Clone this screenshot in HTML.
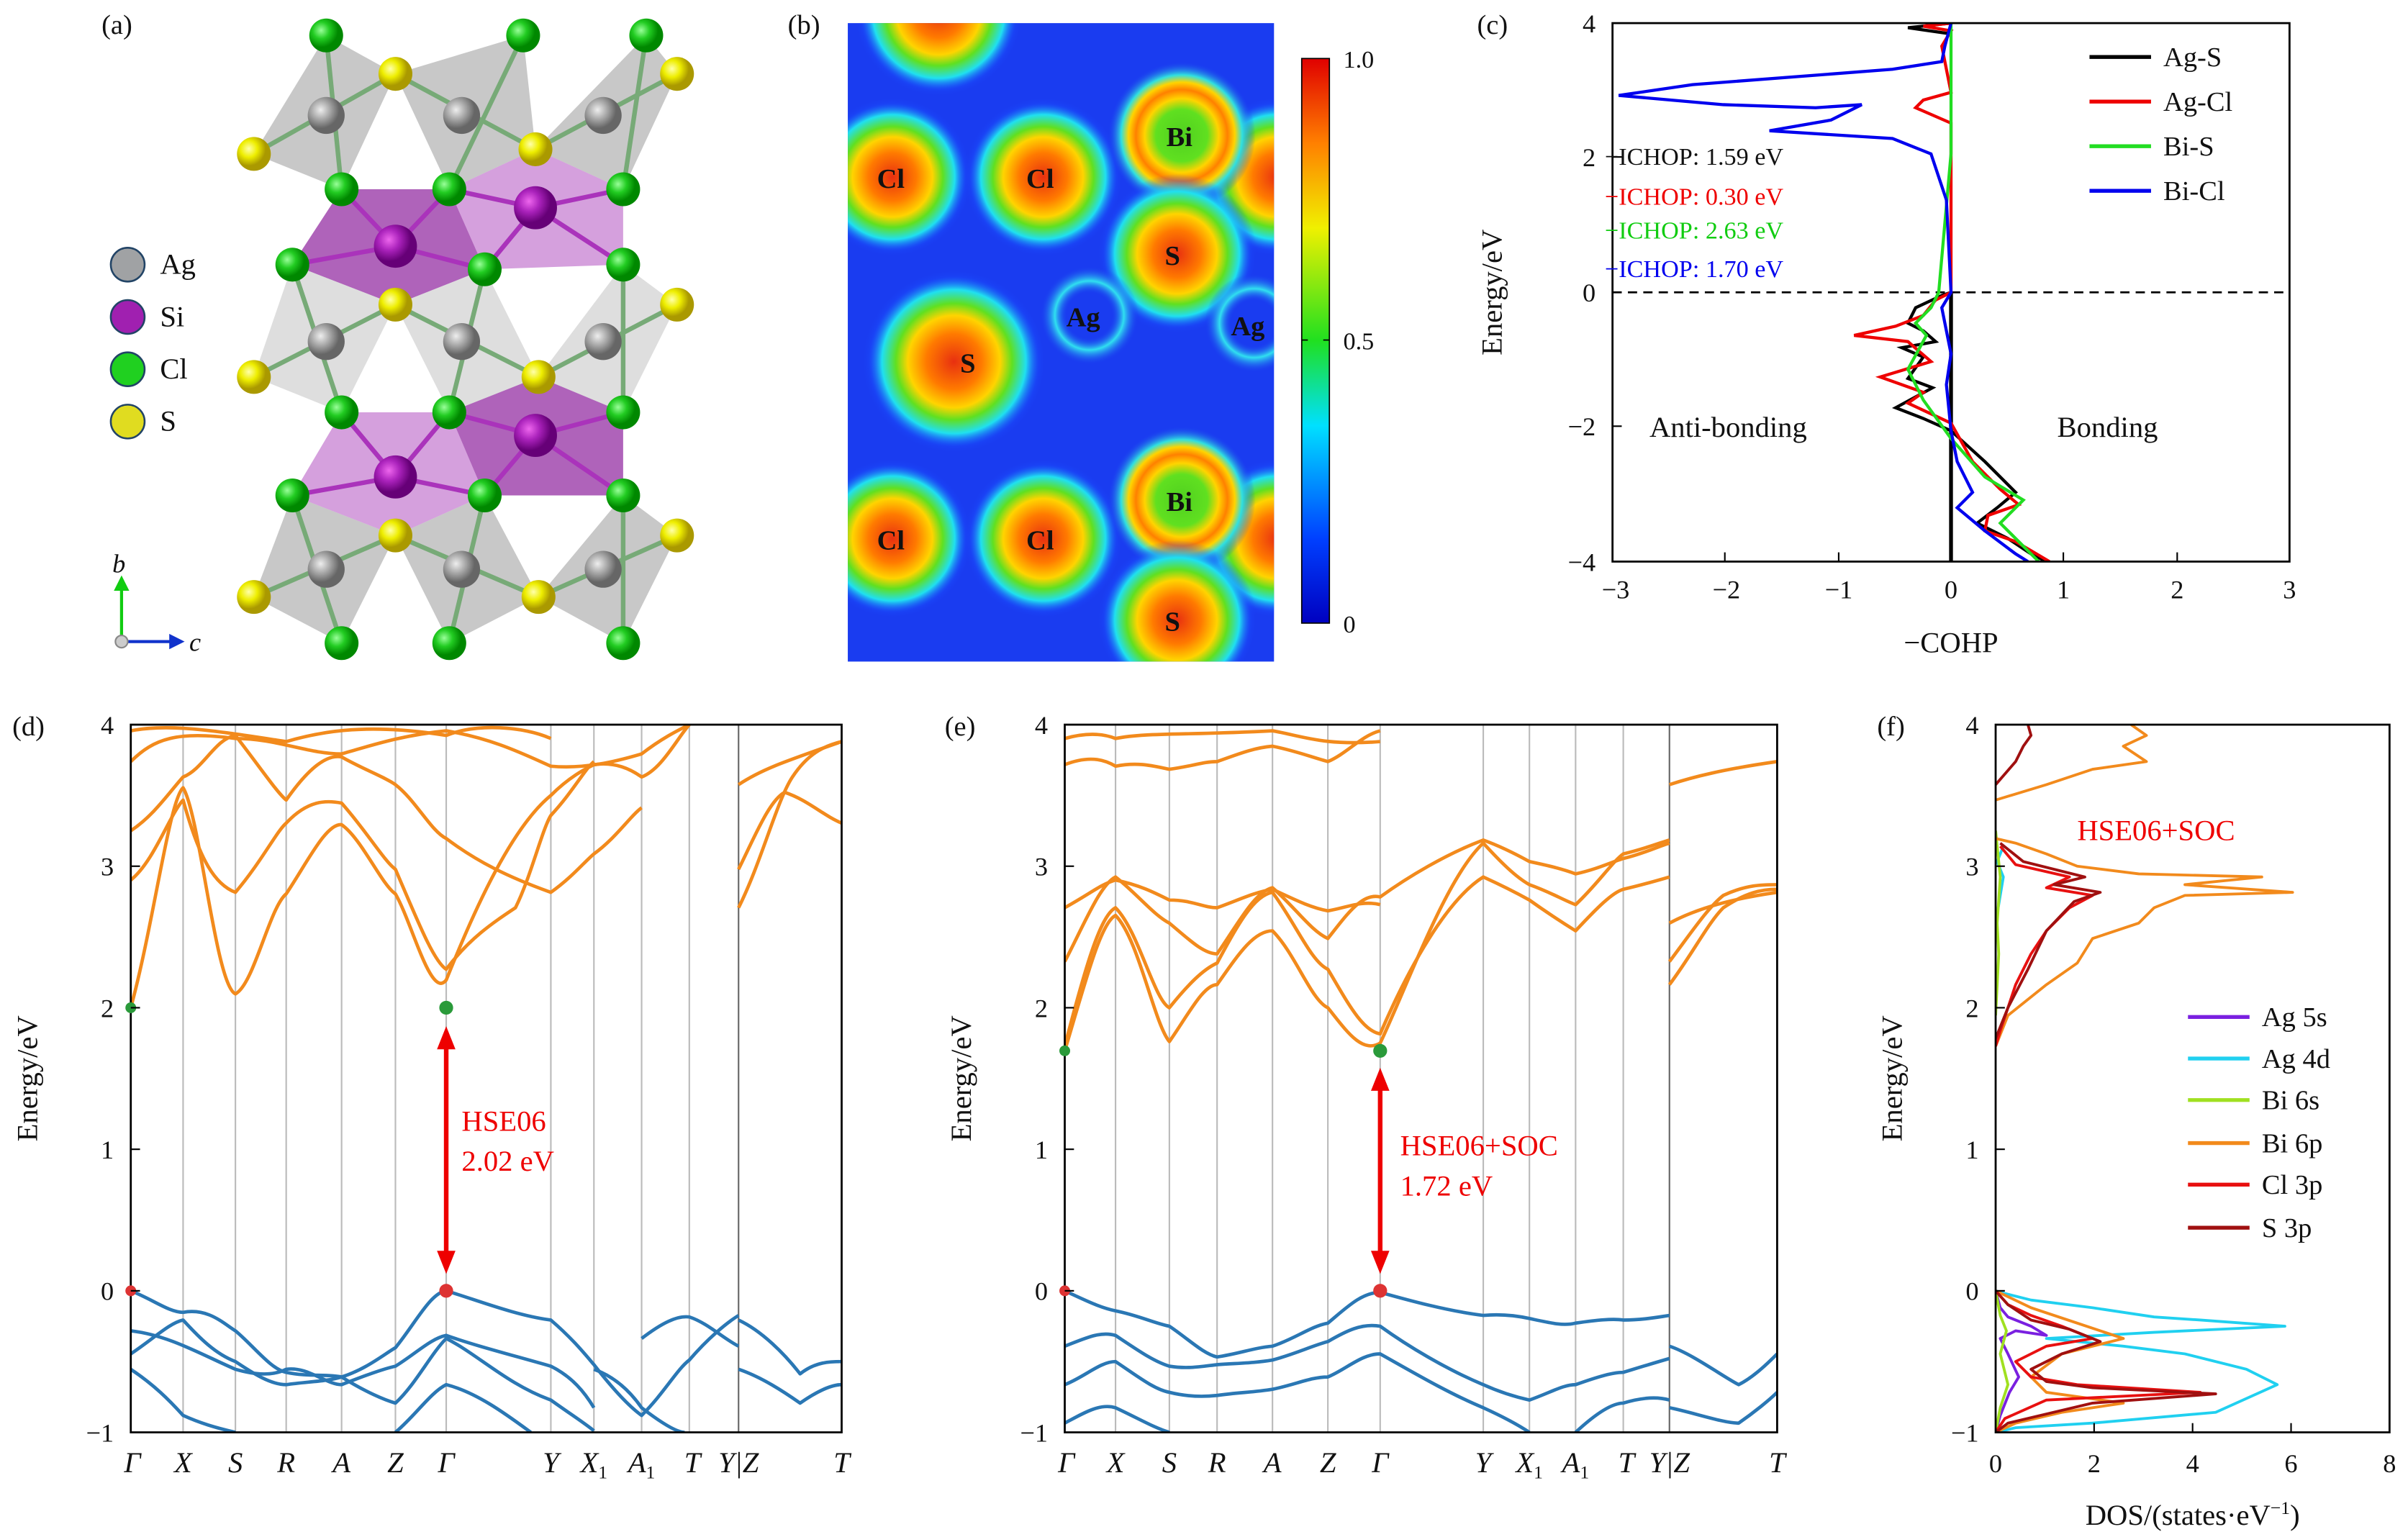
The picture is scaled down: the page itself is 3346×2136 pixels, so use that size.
<!DOCTYPE html>
<html><head><meta charset="utf-8"><style>
html,body{margin:0;padding:0;background:#fff}
svg{display:block}
text{font-family:"Liberation Serif","DejaVu Serif",serif;fill:#111}
</style></head><body>
<svg xmlns="http://www.w3.org/2000/svg" width="3346" height="2136" viewBox="0 0 1565 999">
<defs>
<radialGradient id="hot"><stop offset="0" stop-color="#e83010"/><stop offset="0.3" stop-color="#ff7a00"/><stop offset="0.5" stop-color="#ffd400"/><stop offset="0.63" stop-color="#60e020"/><stop offset="0.78" stop-color="#20e0f0"/><stop offset="0.92" stop-color="#1a50ff" stop-opacity="0.3"/><stop offset="1" stop-color="#1a3cf0" stop-opacity="0"/></radialGradient>
<radialGradient id="ring"><stop offset="0" stop-color="#1a3cf0" stop-opacity="0"/><stop offset="0.45" stop-color="#1a3cf0" stop-opacity="0"/><stop offset="0.7" stop-color="#30e0f0"/><stop offset="1" stop-color="#1a3cf0" stop-opacity="0"/></radialGradient>
<radialGradient id="bi"><stop offset="0" stop-color="#50d020"/><stop offset="0.35" stop-color="#60e020"/><stop offset="0.5" stop-color="#ffd400"/><stop offset="0.62" stop-color="#ff8000"/><stop offset="0.72" stop-color="#ffd400"/><stop offset="0.82" stop-color="#30e0e0"/><stop offset="1" stop-color="#1a3cf0" stop-opacity="0"/></radialGradient>
<linearGradient id="cbar" x1="0" y1="1" x2="0" y2="0"><stop offset="0" stop-color="#0000c0"/><stop offset="0.15" stop-color="#0040ff"/><stop offset="0.35" stop-color="#00e0ff"/><stop offset="0.5" stop-color="#20e020"/><stop offset="0.7" stop-color="#f0f000"/><stop offset="0.85" stop-color="#ff8000"/><stop offset="1" stop-color="#e00000"/></linearGradient>
<radialGradient id="gCl" cx="0.35" cy="0.35"><stop offset="0" stop-color="#9f9"/><stop offset="0.5" stop-color="#2c2"/><stop offset="1" stop-color="#080"/></radialGradient>
<radialGradient id="gS" cx="0.35" cy="0.35"><stop offset="0" stop-color="#ffa"/><stop offset="0.5" stop-color="#ee0"/><stop offset="1" stop-color="#a90"/></radialGradient>
<radialGradient id="gAg" cx="0.35" cy="0.35"><stop offset="0" stop-color="#eee"/><stop offset="0.5" stop-color="#aaa"/><stop offset="1" stop-color="#666"/></radialGradient>
<radialGradient id="gSi" cx="0.35" cy="0.35"><stop offset="0" stop-color="#e6e"/><stop offset="0.5" stop-color="#a2b"/><stop offset="1" stop-color="#607"/></radialGradient>
<clipPath id="cb"><rect x="551" y="15" width="277" height="415"/></clipPath>
<clipPath id="cc"><rect x="1048" y="15" width="440" height="350"/></clipPath>
<clipPath id="cd"><rect x="85" y="471" width="462" height="460"/></clipPath>
<clipPath id="ce"><rect x="692" y="471" width="463" height="460"/></clipPath>
<clipPath id="cf"><rect x="1297" y="471" width="256" height="460"/></clipPath>
</defs>

<!-- (a) -->
<text x="66" y="22" font-size="18">(a)</text>
<g opacity="0.9">
<polygon points="212,23 257,48 222,123 165,100" fill="#999" opacity="0.6"/>
<polygon points="340,23 257,48 292,123 348,97" fill="#999" opacity="0.6"/>
<polygon points="420,23 440,48 405,123 348,97" fill="#999" opacity="0.6"/>
<polygon points="222,123 292,123 315,175 257,198 190,172" fill="#8a1a9a" opacity="0.75"/>
<polygon points="292,123 348,97 405,123 405,172 315,175" fill="#b050c0" opacity="0.6"/>
<polygon points="190,172 257,198 222,268 165,245" fill="#bbb" opacity="0.55"/>
<polygon points="315,175 257,198 292,268 350,245" fill="#bbb" opacity="0.55"/>
<polygon points="405,172 440,198 405,268 350,245" fill="#bbb" opacity="0.55"/>
<polygon points="222,268 292,268 315,322 257,348 190,322" fill="#b050c0" opacity="0.6"/>
<polygon points="292,268 350,245 405,268 405,322 315,322" fill="#8a1a9a" opacity="0.75"/>
<polygon points="190,322 257,348 222,418 165,388" fill="#999" opacity="0.6"/>
<polygon points="315,322 257,348 292,418 350,388" fill="#999" opacity="0.6"/>
<polygon points="405,322 440,348 405,418 350,388" fill="#999" opacity="0.6"/>
</g>
<g stroke="#7a7" stroke-width="3">
<line x1="212" y1="23" x2="222" y2="123"/><line x1="340" y1="23" x2="292" y2="123"/><line x1="420" y1="23" x2="405" y2="123"/>
<line x1="165" y1="100" x2="257" y2="48"/><line x1="257" y1="48" x2="348" y2="97"/><line x1="348" y1="97" x2="440" y2="48"/>
<line x1="190" y1="172" x2="222" y2="268"/><line x1="315" y1="175" x2="292" y2="268"/><line x1="405" y1="172" x2="405" y2="268"/>
<line x1="165" y1="245" x2="257" y2="198"/><line x1="257" y1="198" x2="350" y2="245"/><line x1="350" y1="245" x2="440" y2="198"/>
<line x1="190" y1="322" x2="222" y2="418"/><line x1="315" y1="322" x2="292" y2="418"/><line x1="405" y1="322" x2="405" y2="418"/>
<line x1="165" y1="388" x2="257" y2="348"/><line x1="257" y1="348" x2="350" y2="388"/><line x1="350" y1="388" x2="440" y2="348"/>
</g>
<g stroke="#a3b" stroke-width="3">
<line x1="257" y1="160" x2="222" y2="123"/><line x1="257" y1="160" x2="292" y2="123"/><line x1="257" y1="160" x2="190" y2="172"/><line x1="257" y1="160" x2="315" y2="175"/>
<line x1="348" y1="135" x2="292" y2="123"/><line x1="348" y1="135" x2="405" y2="123"/><line x1="348" y1="135" x2="315" y2="175"/><line x1="348" y1="135" x2="405" y2="172"/>
<line x1="257" y1="310" x2="222" y2="268"/><line x1="257" y1="310" x2="292" y2="268"/><line x1="257" y1="310" x2="190" y2="322"/><line x1="257" y1="310" x2="315" y2="322"/>
<line x1="348" y1="283" x2="292" y2="268"/><line x1="348" y1="283" x2="405" y2="268"/><line x1="348" y1="283" x2="315" y2="322"/><line x1="348" y1="283" x2="405" y2="322"/>
</g>
<g fill="url(#gAg)"><circle cx="212" cy="75" r="12"/><circle cx="300" cy="75" r="12"/><circle cx="392" cy="75" r="12"/><circle cx="212" cy="222" r="12"/><circle cx="300" cy="222" r="12"/><circle cx="392" cy="222" r="12"/><circle cx="212" cy="370" r="12"/><circle cx="300" cy="370" r="12"/><circle cx="392" cy="370" r="12"/></g>
<g fill="url(#gSi)"><circle cx="348" cy="135" r="14"/><circle cx="257" cy="160" r="14"/><circle cx="348" cy="283" r="14"/><circle cx="257" cy="310" r="14"/></g>
<g fill="url(#gS)"><circle cx="257" cy="48" r="11"/><circle cx="440" cy="48" r="11"/><circle cx="165" cy="100" r="11"/><circle cx="348" cy="97" r="11"/><circle cx="257" cy="198" r="11"/><circle cx="440" cy="198" r="11"/><circle cx="165" cy="245" r="11"/><circle cx="350" cy="245" r="11"/><circle cx="257" cy="348" r="11"/><circle cx="440" cy="348" r="11"/><circle cx="165" cy="388" r="11"/><circle cx="350" cy="388" r="11"/></g>
<g fill="url(#gCl)"><circle cx="212" cy="23" r="11"/><circle cx="340" cy="23" r="11"/><circle cx="420" cy="23" r="11"/><circle cx="222" cy="123" r="11"/><circle cx="292" cy="123" r="11"/><circle cx="405" cy="123" r="11"/><circle cx="190" cy="172" r="11"/><circle cx="315" cy="175" r="11"/><circle cx="405" cy="172" r="11"/><circle cx="222" cy="268" r="11"/><circle cx="292" cy="268" r="11"/><circle cx="405" cy="268" r="11"/><circle cx="190" cy="322" r="11"/><circle cx="315" cy="322" r="11"/><circle cx="405" cy="322" r="11"/><circle cx="222" cy="418" r="11"/><circle cx="292" cy="418" r="11"/><circle cx="405" cy="418" r="11"/></g>
<g stroke="#246" stroke-width="1.2"><circle cx="83" cy="172" r="11" fill="#a0a2a4"/><circle cx="83" cy="206" r="11" fill="#a020b0"/><circle cx="83" cy="240" r="11" fill="#20d020"/><circle cx="83" cy="274" r="11" fill="#e0dc20"/></g>
<g font-size="19"><text x="104" y="178">Ag</text><text x="104" y="212">Si</text><text x="104" y="246">Cl</text><text x="104" y="280">S</text></g>
<line x1="79" y1="416" x2="79" y2="382" stroke="#1c1" stroke-width="2"/><polygon points="74,384 84,384 79,374" fill="#1c1"/>
<line x1="79" y1="417" x2="112" y2="417" stroke="#13c" stroke-width="2"/><polygon points="110,412 110,422 120,417" fill="#13c"/>
<circle cx="79" cy="417" r="4" fill="#ccc" stroke="#888"/>
<text x="73" y="372" font-size="17" font-style="italic">b</text><text x="123" y="423" font-size="17" font-style="italic">c</text>

<!-- (b) -->
<text x="512" y="22" font-size="18">(b)</text>
<rect x="551" y="15" width="277" height="415" fill="#1a3cf0"/>
<g clip-path="url(#cb)">
<circle cx="610" cy="8" r="55" fill="url(#hot)"/>
<circle cx="580" cy="115" r="52" fill="url(#hot)"/>
<circle cx="678" cy="115" r="52" fill="url(#hot)"/>
<circle cx="830" cy="115" r="52" fill="url(#hot)"/>
<circle cx="768" cy="88" r="48" fill="url(#bi)"/>
<circle cx="765" cy="165" r="52" fill="url(#hot)"/>
<circle cx="620" cy="235" r="60" fill="url(#hot)"/>
<circle cx="708" cy="205" r="32" fill="url(#ring)"/>
<circle cx="815" cy="210" r="32" fill="url(#ring)"/>
<circle cx="580" cy="350" r="52" fill="url(#hot)"/>
<circle cx="678" cy="350" r="52" fill="url(#hot)"/>
<circle cx="830" cy="350" r="52" fill="url(#hot)"/>
<circle cx="768" cy="325" r="48" fill="url(#bi)"/>
<circle cx="765" cy="403" r="52" fill="url(#hot)"/>
</g>
<g font-size="18" font-weight="bold"><text x="570" y="122">Cl</text><text x="667" y="122">Cl</text><text x="758" y="95">Bi</text><text x="757" y="172">S</text><text x="693" y="212">Ag</text><text x="800" y="218">Ag</text><text x="624" y="242">S</text><text x="570" y="357">Cl</text><text x="667" y="357">Cl</text><text x="758" y="332">Bi</text><text x="757" y="410">S</text></g>
<rect x="846" y="38" width="18" height="367" fill="url(#cbar)" stroke="#000" stroke-width="0.8"/>
<g stroke="#000" stroke-width="0.8"><line x1="846" y1="221" x2="850" y2="221"/><line x1="864" y1="221" x2="860" y2="221"/></g>
<g font-size="16"><text x="873" y="44">1.0</text><text x="873" y="227">0.5</text><text x="873" y="411">0</text></g>

<!-- (c) -->
<text x="960" y="22" font-size="18">(c)</text>
<g clip-path="url(#cc)" fill="none" stroke-width="2">
<line x1="1048" y1="190" x2="1488" y2="190" stroke="#000" stroke-width="1.3" stroke-dasharray="6,4"/>
<path d="M1268,365 L1268,190" stroke="#000" stroke-width="2.5"/>
<path d="M1268,15 L1240,18 L1268,22 M1268,190 L1262,192 L1245,200 L1240,210 L1250,215 L1258,222 L1236,226 L1250,232 L1240,246 L1256,252 L1232,265 L1250,272 L1268,280 L1290,300 L1310,320 L1298,330 L1285,340 L1305,350 L1320,360 L1330,365" stroke="#000"/>
<path d="M1268,15 L1250,17 L1268,20 L1262,30 L1268,60 L1250,65 L1245,70 L1268,80 L1268,190 L1258,195 L1250,205 L1232,212 L1205,218 L1240,222 L1255,235 L1222,245 L1250,255 L1240,262 L1268,275 L1282,300 L1300,318 L1312,328 L1292,335 L1290,345 L1310,352 L1332,365" stroke="#e00"/>
<path d="M1268,15 L1268,100 L1260,190 L1255,200 L1245,210 L1252,218 L1240,240 L1250,260 L1268,285 L1290,310 L1315,325 L1300,340 L1315,355 L1325,365" stroke="#2d2"/>
<path d="M1268,15 L1264,30 L1262,40 L1230,45 L1100,55 L1052,62 L1120,68 L1180,70 L1210,68 L1190,78 L1150,85 L1230,90 L1255,100 L1265,130 L1268,190 L1262,200 L1268,230 L1265,250 L1268,280 L1272,300 L1282,320 L1272,330 L1290,345 L1310,360 L1318,365" stroke="#00e"/>
</g>
<rect x="1048" y="15" width="440" height="350" fill="none" stroke="#000" stroke-width="1.3"/>
<g stroke="#000" stroke-width="1">
<line x1="1121" y1="365" x2="1121" y2="359"/><line x1="1195" y1="365" x2="1195" y2="359"/><line x1="1268" y1="365" x2="1268" y2="359"/><line x1="1341" y1="365" x2="1341" y2="359"/><line x1="1415" y1="365" x2="1415" y2="359"/>
<line x1="1048" y1="102" x2="1054" y2="102"/><line x1="1048" y1="190" x2="1054" y2="190"/><line x1="1048" y1="277" x2="1054" y2="277"/>
</g>
<g font-size="17" text-anchor="middle"><text x="1050" y="389">−3</text><text x="1122" y="389">−2</text><text x="1195" y="389">−1</text><text x="1268" y="389">0</text><text x="1341" y="389">1</text><text x="1415" y="389">2</text><text x="1488" y="389">3</text><text x="1268" y="424" font-size="19">−COHP</text></g>
<g font-size="17" text-anchor="end"><text x="1037" y="21">4</text><text x="1037" y="108">2</text><text x="1037" y="196">0</text><text x="1037" y="283">−2</text><text x="1037" y="371">−4</text></g>
<text transform="translate(976,190) rotate(-90)" font-size="19" text-anchor="middle">Energy/eV</text>
<g font-size="16"><text x="1043" y="107">−ICHOP: 1.59 eV</text><text x="1043" y="133" fill="#e00" style="fill:#e00">−ICHOP: 0.30 eV</text><text x="1043" y="155" style="fill:#1c1">−ICHOP: 2.63 eV</text><text x="1043" y="180" style="fill:#00e">−ICHOP: 1.70 eV</text></g>
<g font-size="19"><text x="1072" y="284">Anti-bonding</text><text x="1337" y="284">Bonding</text></g>
<g stroke-width="2.5"><line x1="1358" y1="37" x2="1398" y2="37" stroke="#000"/><line x1="1358" y1="66" x2="1398" y2="66" stroke="#e00"/><line x1="1358" y1="95" x2="1398" y2="95" stroke="#2d2"/><line x1="1358" y1="124" x2="1398" y2="124" stroke="#00e"/></g>
<g font-size="18"><text x="1406" y="43">Ag-S</text><text x="1406" y="72">Ag-Cl</text><text x="1406" y="101">Bi-S</text><text x="1406" y="130">Bi-Cl</text></g>

<!-- (d) -->
<text x="8" y="478" font-size="18">(d)</text>
<g stroke="#bbb" stroke-width="1"><line x1="119" y1="471" x2="119" y2="931"/><line x1="153" y1="471" x2="153" y2="931"/><line x1="186" y1="471" x2="186" y2="931"/><line x1="222" y1="471" x2="222" y2="931"/><line x1="257" y1="471" x2="257" y2="931"/><line x1="290" y1="471" x2="290" y2="931"/><line x1="358" y1="471" x2="358" y2="931"/><line x1="386" y1="471" x2="386" y2="931"/><line x1="417" y1="471" x2="417" y2="931"/><line x1="448" y1="471" x2="448" y2="931"/><line x1="480" y1="471" x2="480" y2="931" stroke="#666"/></g>
<g clip-path="url(#cd)" fill="none" stroke-width="2.2" stroke-linejoin="round">
<g stroke="#f28a1c">
<path d="M85,655 C100,600 110,520 119,512 C130,530 140,640 153,646 C165,640 175,590 186,581 C200,560 212,535 222,536 C235,545 248,575 257,581 C268,600 280,650 290,637 C305,600 330,540 358,517 C370,505 380,500 386,497 C400,495 410,500 417,505 C430,500 440,480 448,471"/>
<path d="M85,572 C100,560 110,530 119,520 C130,560 140,575 153,580 C170,560 180,540 186,535 C200,520 212,520 222,522 C238,540 250,560 257,565 C272,600 282,625 290,630 C305,610 320,600 335,590 C345,570 352,540 358,530 C372,515 380,500 386,495"/>
<path d="M85,540 C100,530 110,515 119,505 C132,500 140,480 153,478 C170,500 180,515 186,520 C200,500 212,490 222,492 C236,500 250,505 257,510 C270,520 280,540 290,545 C310,560 330,570 358,580 C372,570 380,560 386,555 C400,545 410,530 417,525"/>
<path d="M85,495 C100,480 115,475 153,480 C180,480 200,490 222,490 C240,485 260,478 290,475 C320,480 340,490 358,498 C380,500 400,495 417,490 C430,480 440,475 448,471"/>
<path d="M85,475 C110,470 140,475 186,482 C210,475 240,470 290,478 C310,470 340,472 358,480"/>
<path d="M480,590 C495,560 505,520 515,505 C525,490 535,485 547,482"/>
<path d="M480,565 C490,545 500,520 510,515 C525,520 535,530 547,535"/>
<path d="M480,510 C495,500 510,495 547,482"/>
</g>
<g stroke="#2a77b4">
<path d="M85,839 C100,845 110,853 119,853 C135,850 145,860 153,865 C165,875 176,890 186,892 C200,895 212,893 222,895 C238,890 250,880 257,876 C270,860 280,840 290,839 C310,845 335,855 358,858 C372,870 380,880 386,887 C400,905 410,915 417,920 C432,905 440,890 448,884 C460,870 472,860 480,855"/>
<path d="M85,880 C100,870 110,860 119,858 C130,870 140,880 153,885 C165,893 176,900 186,900 C200,898 212,898 222,895 C238,905 250,910 257,912 C270,900 280,880 290,870 C310,880 330,900 358,910 C372,920 380,925 386,930"/>
<path d="M85,890 C100,900 110,910 119,920 C130,925 140,928 153,931"/>
<path d="M85,865 C110,868 130,880 153,890 C170,895 180,893 186,890 C200,888 212,900 222,900 C235,895 248,890 257,888 C270,880 280,870 290,868 C310,875 330,880 358,888 C372,895 380,905 386,915"/>
<path d="M257,931 C270,920 280,905 290,900 C310,905 330,920 345,931"/>
<path d="M386,890 C400,895 410,905 417,915 C430,925 440,931 445,931"/>
<path d="M417,870 C430,860 440,855 448,856 C460,860 470,870 480,875"/>
<path d="M480,858 C495,865 510,880 520,893 C530,885 540,885 547,885"/>
<path d="M480,890 C495,895 510,905 520,912 C530,905 540,900 547,900"/>
</g>
</g>
<rect x="85" y="471" width="462" height="460" fill="none" stroke="#000" stroke-width="1.3"/>
<circle cx="290" cy="655" r="4.5" fill="#2a9a3a"/><circle cx="85" cy="655" r="3.5" fill="#2a9a3a"/>
<circle cx="290" cy="839" r="4.5" fill="#d33"/><circle cx="85" cy="839" r="3.5" fill="#d33"/>
<line x1="290" y1="680" x2="290" y2="815" stroke="#e00" stroke-width="3"/><polygon points="284,682 296,682 290,667" fill="#e00"/><polygon points="284,813 296,813 290,828" fill="#e00"/>
<g font-size="19" style="fill:#e00"><text x="300" y="735" style="fill:#e00">HSE06</text><text x="300" y="761" style="fill:#e00">2.02 eV</text></g>
<g stroke="#000" stroke-width="1"><line x1="85" y1="563" x2="91" y2="563"/><line x1="85" y1="655" x2="91" y2="655"/><line x1="85" y1="747" x2="91" y2="747"/><line x1="85" y1="839" x2="91" y2="839"/></g>
<g font-size="17" text-anchor="end"><text x="74" y="477">4</text><text x="74" y="569">3</text><text x="74" y="661">2</text><text x="74" y="753">1</text><text x="74" y="845">0</text><text x="74" y="937">−1</text></g>
<text transform="translate(24,701) rotate(-90)" font-size="19" text-anchor="middle">Energy/eV</text>
<g font-size="19" font-style="italic" text-anchor="middle"><text x="86" y="957">Γ</text><text x="119" y="957">X</text><text x="153" y="957">S</text><text x="186" y="957">R</text><text x="222" y="957">A</text><text x="257" y="957">Z</text><text x="290" y="957">Γ</text><text x="358" y="957">Y</text><text x="386" y="957">X<tspan font-size="12" font-style="normal" dy="4">1</tspan></text><text x="417" y="957">A<tspan font-size="12" font-style="normal" dy="4">1</tspan></text><text x="450" y="957">T</text><text x="480" y="957">Y|Z</text><text x="547" y="957">T</text></g>

<!-- (e) -->
<text x="614" y="478" font-size="18">(e)</text>
<g stroke="#bbb" stroke-width="1"><line x1="725" y1="471" x2="725" y2="931"/><line x1="760" y1="471" x2="760" y2="931"/><line x1="791" y1="471" x2="791" y2="931"/><line x1="827" y1="471" x2="827" y2="931"/><line x1="863" y1="471" x2="863" y2="931"/><line x1="897" y1="471" x2="897" y2="931"/><line x1="964" y1="471" x2="964" y2="931"/><line x1="994" y1="471" x2="994" y2="931"/><line x1="1024" y1="471" x2="1024" y2="931"/><line x1="1055" y1="471" x2="1055" y2="931"/><line x1="1085" y1="471" x2="1085" y2="931" stroke="#666"/></g>
<g clip-path="url(#ce)" fill="none" stroke-width="2.2" stroke-linejoin="round">
<g stroke="#f28a1c">
<path d="M692,683 C705,640 715,600 725,595 C740,610 750,665 760,677 C772,660 782,640 791,640 C805,620 815,605 827,605 C842,620 852,650 863,655 C875,670 885,685 897,678 C915,640 940,570 964,548 C975,560 985,570 994,575 C1008,580 1016,585 1024,588 C1038,575 1048,560 1055,555 C1068,552 1078,548 1085,546"/>
<path d="M692,680 C705,630 715,595 725,590 C740,605 750,650 760,655 C772,640 782,630 791,626 C805,600 815,582 827,580 C842,600 852,625 863,630 C875,650 885,670 897,672 C915,630 940,585 964,570 C975,575 985,580 994,585 C1008,595 1016,600 1024,605 C1038,590 1048,580 1055,578 C1068,575 1078,572 1085,570"/>
<path d="M692,625 C705,600 715,575 725,570 C738,580 750,595 760,600 C772,610 782,620 791,620 C805,600 815,580 827,577 C842,590 852,605 863,610 C875,595 885,580 897,583 C915,570 940,555 964,546 C975,550 985,555 994,560 C1008,563 1016,565 1024,568 C1038,565 1048,560 1055,558 C1068,555 1078,550 1085,548"/>
<path d="M692,590 C710,580 715,575 725,572 C740,575 750,580 760,585 C775,585 782,590 791,590 C805,585 815,580 827,578 C842,585 852,590 863,592 C875,590 885,585 897,588"/>
<path d="M692,497 C710,490 720,495 725,498 C740,495 750,498 760,500 C775,498 782,495 791,495 C805,490 815,486 827,485 C842,488 852,492 863,495 C875,490 885,478 897,475"/>
<path d="M692,480 C710,475 720,478 725,480 C745,476 770,478 827,475 C845,478 860,485 897,482"/>
<path d="M1085,640 C1100,620 1110,600 1120,590 C1135,580 1145,578 1155,578"/>
<path d="M1085,625 C1100,605 1110,590 1120,582 C1135,575 1145,575 1155,575"/>
<path d="M1085,600 C1100,592 1120,585 1155,580"/>
<path d="M1085,510 C1100,505 1120,500 1155,495"/>
</g>
<g stroke="#2a77b4">
<path d="M692,839 C705,845 715,850 725,852 C740,855 750,860 760,862 C772,870 782,880 791,882 C805,880 815,876 827,875 C842,870 852,862 863,860 C875,850 885,840 897,840 C915,845 940,852 964,855 C975,854 985,855 994,857 C1008,860 1016,862 1024,860 C1038,858 1048,857 1055,858 C1068,858 1078,856 1085,855"/>
<path d="M692,875 C705,870 715,865 725,868 C740,878 750,885 760,888 C772,890 782,888 791,887 C805,886 815,886 827,884 C842,880 852,875 863,872 C875,865 885,860 897,862 C915,875 940,890 964,900 C975,905 985,908 994,910 C1008,905 1016,900 1024,900 C1038,895 1048,892 1055,892 C1068,888 1078,885 1085,883"/>
<path d="M692,900 C705,895 715,885 725,885 C740,895 750,903 760,905 C772,908 782,908 791,907 C805,905 815,905 827,903 C842,900 852,895 863,895 C875,890 885,880 897,880 C915,890 940,905 964,915 C975,920 985,925 994,931"/>
<path d="M692,925 C705,918 715,912 725,915 C740,922 750,928 760,931"/>
<path d="M1024,931 C1038,918 1048,912 1055,912 C1068,908 1078,908 1085,910"/>
<path d="M1085,875 C1100,880 1120,895 1130,900 C1140,895 1150,885 1155,880"/>
<path d="M1085,915 C1100,918 1120,925 1130,925 C1140,918 1150,910 1155,905"/>
</g>
</g>
<rect x="692" y="471" width="463" height="460" fill="none" stroke="#000" stroke-width="1.3"/>
<circle cx="897" cy="683" r="4.5" fill="#2a9a3a"/><circle cx="692" cy="683" r="3.5" fill="#2a9a3a"/>
<circle cx="897" cy="839" r="4.5" fill="#d33"/><circle cx="692" cy="839" r="3.5" fill="#d33"/>
<line x1="897" y1="707" x2="897" y2="815" stroke="#e00" stroke-width="3"/><polygon points="891,709 903,709 897,694" fill="#e00"/><polygon points="891,813 903,813 897,828" fill="#e00"/>
<g font-size="19"><text x="910" y="751" style="fill:#e00">HSE06+SOC</text><text x="910" y="777" style="fill:#e00">1.72 eV</text></g>
<g stroke="#000" stroke-width="1"><line x1="692" y1="563" x2="698" y2="563"/><line x1="692" y1="655" x2="698" y2="655"/><line x1="692" y1="747" x2="698" y2="747"/><line x1="692" y1="839" x2="698" y2="839"/></g>
<g font-size="17" text-anchor="end"><text x="681" y="477">4</text><text x="681" y="569">3</text><text x="681" y="661">2</text><text x="681" y="753">1</text><text x="681" y="845">0</text><text x="681" y="937">−1</text></g>
<text transform="translate(631,701) rotate(-90)" font-size="19" text-anchor="middle">Energy/eV</text>
<g font-size="19" font-style="italic" text-anchor="middle"><text x="693" y="957">Γ</text><text x="725" y="957">X</text><text x="760" y="957">S</text><text x="791" y="957">R</text><text x="827" y="957">A</text><text x="863" y="957">Z</text><text x="897" y="957">Γ</text><text x="964" y="957">Y</text><text x="994" y="957">X<tspan font-size="12" font-style="normal" dy="4">1</tspan></text><text x="1024" y="957">A<tspan font-size="12" font-style="normal" dy="4">1</tspan></text><text x="1057" y="957">T</text><text x="1085" y="957">Y|Z</text><text x="1155" y="957">T</text></g>

<!-- (f) -->
<text x="1220" y="478" font-size="18">(f)</text>
<g clip-path="url(#cf)" fill="none" stroke-width="1.8" stroke-linejoin="round">
<path d="M1297,931 L1300,920 L1306,905 L1312,895 L1305,880 L1300,870 L1310,865 L1330,868 L1320,862 L1305,856 L1300,850 L1297,839" stroke="#7a20e0"/>
<path d="M1297,931 L1310,928 L1360,925 L1440,918 L1480,900 L1460,890 L1420,880 L1380,875 L1330,870 L1400,866 L1485,862 L1430,858 L1400,856 L1360,850 L1320,845 L1300,840 L1297,839 M1297,600 L1302,570 L1298,560 L1302,550" stroke="#20d0f0"/>
<path d="M1297,931 L1300,915 L1305,900 L1300,880 L1304,865 L1300,855 L1297,839 M1297,660 L1299,620 L1298,600 L1300,570 L1297,540" stroke="#a0e020"/>
<path d="M1297,931 L1310,925 L1340,918 L1380,912 L1330,905 L1320,895 L1340,880 L1380,870 L1350,860 L1320,850 L1297,839 M1297,680 L1305,660 L1330,640 L1350,626 L1360,610 L1390,600 L1400,590 L1420,582 L1490,580 L1420,575 L1470,570 L1390,568 L1350,563 L1330,555 L1310,548 L1297,545 M1297,520 L1330,510 L1360,500 L1395,495 L1380,485 L1395,478 L1385,471" stroke="#f28a1c"/>
<path d="M1297,931 L1303,922 L1330,910 L1430,905 L1350,900 L1320,895 L1310,885 L1330,875 L1360,870 L1340,862 L1320,855 L1305,848 L1297,839 M1297,680 L1300,670 L1310,640 L1320,620 L1330,605 L1345,590 L1360,582 L1330,577 L1345,570 L1310,562 L1300,550" stroke="#e81010"/>
<path d="M1297,931 L1305,925 L1360,912 L1440,906 L1360,902 L1330,898 L1320,890 L1340,880 L1365,872 L1345,864 L1320,858 L1305,848 L1297,839 M1297,675 L1305,655 L1318,630 L1330,605 L1348,586 L1365,580 L1335,575 L1355,570 L1315,560 L1300,548 M1297,510 L1310,495 L1315,485 L1320,478 L1318,471" stroke="#a01010"/>
</g>
<rect x="1297" y="471" width="256" height="460" fill="none" stroke="#000" stroke-width="1.3"/>
<g stroke="#000" stroke-width="1"><line x1="1297" y1="563" x2="1303" y2="563"/><line x1="1297" y1="655" x2="1303" y2="655"/><line x1="1297" y1="747" x2="1303" y2="747"/><line x1="1297" y1="839" x2="1303" y2="839"/><line x1="1361" y1="931" x2="1361" y2="925"/><line x1="1425" y1="931" x2="1425" y2="925"/><line x1="1489" y1="931" x2="1489" y2="925"/></g>
<g font-size="17" text-anchor="end"><text x="1286" y="477">4</text><text x="1286" y="569">3</text><text x="1286" y="661">2</text><text x="1286" y="753">1</text><text x="1286" y="845">0</text><text x="1286" y="937">−1</text></g>
<g font-size="17" text-anchor="middle"><text x="1297" y="957">0</text><text x="1361" y="957">2</text><text x="1425" y="957">4</text><text x="1489" y="957">6</text><text x="1553" y="957">8</text></g>
<text x="1425" y="991" font-size="19" text-anchor="middle">DOS/(states·eV<tspan font-size="12" dy="-7">−1</tspan><tspan dy="7">)</tspan></text>
<text transform="translate(1236,701) rotate(-90)" font-size="19" text-anchor="middle">Energy/eV</text>
<text x="1350" y="546" font-size="19" style="fill:#e00">HSE06+SOC</text>
<g stroke-width="2.5"><line x1="1422" y1="661" x2="1462" y2="661" stroke="#7a20e0"/><line x1="1422" y1="688" x2="1462" y2="688" stroke="#20d0f0"/><line x1="1422" y1="715" x2="1462" y2="715" stroke="#a0e020"/><line x1="1422" y1="743" x2="1462" y2="743" stroke="#f28a1c"/><line x1="1422" y1="770" x2="1462" y2="770" stroke="#e81010"/><line x1="1422" y1="798" x2="1462" y2="798" stroke="#a01010"/></g>
<g font-size="18"><text x="1470" y="667">Ag 5s</text><text x="1470" y="694">Ag 4d</text><text x="1470" y="721">Bi 6s</text><text x="1470" y="749">Bi 6p</text><text x="1470" y="776">Cl 3p</text><text x="1470" y="804">S 3p</text></g>
</svg>
</body></html>
